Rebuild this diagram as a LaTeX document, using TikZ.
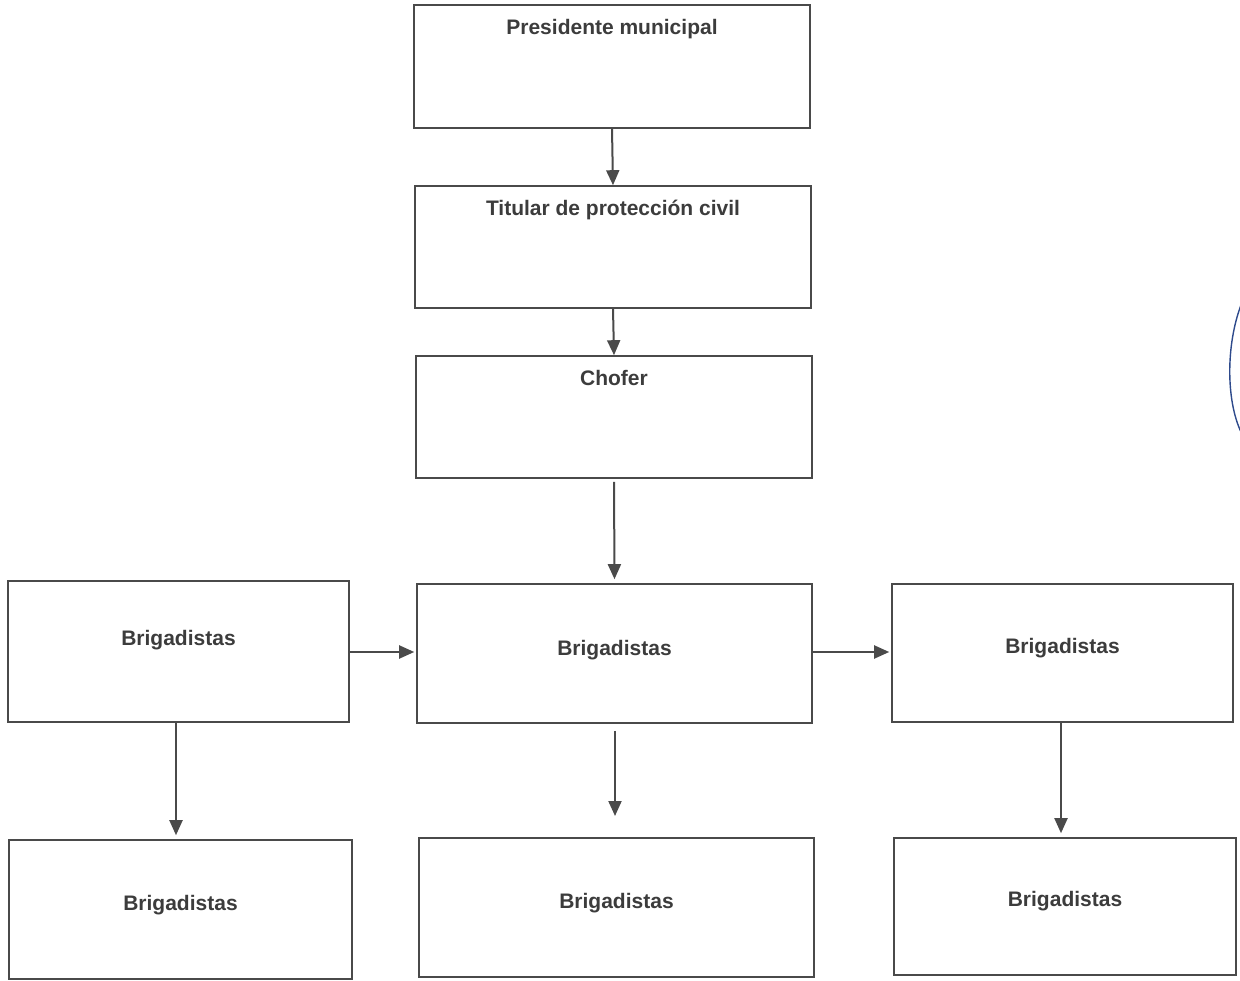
\documentclass[tikz,border=0pt]{standalone}
\usepackage{fontspec}
\setmainfont{Liberation Sans}
\usetikzlibrary{arrows.meta}
\definecolor{ink}{HTML}{4A4A4A}
\definecolor{txt}{HTML}{3C3C3C}
\definecolor{pen}{HTML}{2E4A8C}
\tikzset{
  box/.style={draw=ink, line width=1.6pt, fill=white, inner sep=0pt},
  toptext/.style={anchor=north, yshift=-15pt, inner sep=0pt, text=txt, font=\fontsize{21}{24}\selectfont\bfseries},
  midtext/.style={text=txt, font=\fontsize{21}{24}\selectfont\bfseries},
  link/.style={draw=ink, line width=2pt, -{Triangle[length=15pt,width=13pt]}},
}
\begin{document}
\begin{tikzpicture}[x=1pt,y=-1pt]
\useasboundingbox (0,0) rectangle (1240,981);
\fill[white] (0,0) rectangle (1240,981);

% upper chain of command
\node[box, minimum width=396pt, minimum height=123pt,
  label={[toptext]north:Presidente municipal}] (pres) at (612,66.5) {};
\node[box, minimum width=396pt, minimum height=122pt,
  label={[toptext]north:Titular de protección civil}] (tit) at (613,247) {};
\node[box, minimum width=396pt, minimum height=122pt,
  label={[toptext]north:Chofer}] (chof) at (614,417) {};

% brigades, middle row
\node[box, minimum width=341pt, minimum height=141pt] (bl) at (178.5,651.5) {};
\node[midtext] at ([yshift=11pt]bl.center) {Brigadistas};
\node[box, minimum width=395pt, minimum height=139pt] (bm) at (614.5,653.5) {};
\node[midtext] at ([yshift=3pt]bm.center) {Brigadistas};
\node[box, minimum width=341pt, minimum height=138pt] (br) at (1062.5,653) {};
\node[midtext] at ([yshift=5pt]br.center) {Brigadistas};

% brigades, bottom row
\node[box, minimum width=343pt, minimum height=139pt] (cl) at (180.5,909.5) {};
\node[midtext] at ([yshift=4pt]cl.center) {Brigadistas};
\node[box, minimum width=395pt, minimum height=139pt] (cm) at (616.5,907.5) {};
\node[midtext] at ([yshift=4pt]cm.center) {Brigadistas};
\node[box, minimum width=342pt, minimum height=137pt] (cr) at (1065,906.5) {};
\node[midtext] at ([yshift=5pt]cr.center) {Brigadistas};

% connectors
\draw[link] (pres.south) -- (tit.north);
\draw[link] (tit.south) -- (chof.north);
\draw[link] ([yshift=-3pt]chof.south) -- ([yshift=4pt]bm.north);
\draw[link] (bl.east |- 0,652) -- ([xshift=-2pt]bm.west |- 0,652);
\draw[link] (bm.east |- 0,652) -- ([xshift=-2pt]br.west |- 0,652);
\draw[link] (bl.south -| 176,0) -- ([yshift=4pt]cl.north -| 176,0);
\coordinate (cmtip) at (615,816);
\draw[link] ([yshift=-7pt]bm.south -| 615,0) -- (cmtip);
\draw[link] (br.south -| 1061,0) -- ([yshift=4pt]cr.north -| 1061,0);

% ink arc at the right margin
\draw[pen, line width=1.4pt] (1241,305) .. controls (1226,345) and (1226,400) .. (1241,432);
\end{tikzpicture}
\end{document}
